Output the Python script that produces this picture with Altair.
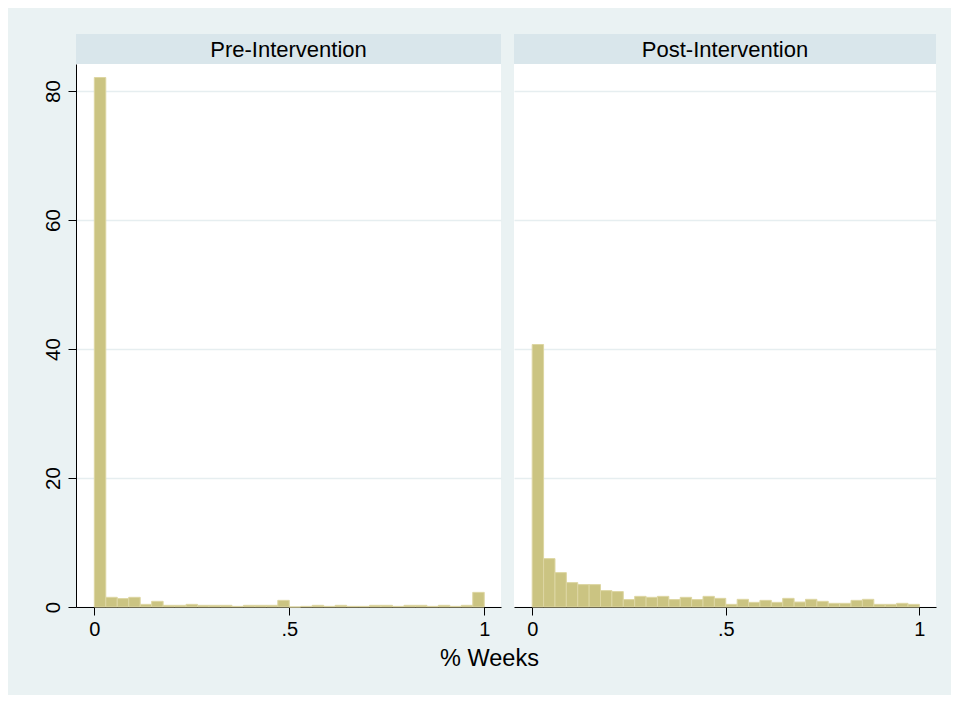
import altair as alt
import pandas as pd

# ---------------- data ----------------
bin_count = 34
panel_names = ["Pre-Intervention", "Post-Intervention"]
pre_pct = [82.1, 1.5, 1.3, 1.5, 0.41, 0.88, 0.26, 0.26, 0.41, 0.26, 0.26, 0.26,
           0.1, 0.26, 0.26, 0.26, 1.03, 0.0, 0.1, 0.26, 0.1, 0.26, 0.1, 0.1,
           0.26, 0.26, 0.1, 0.26, 0.26, 0.1, 0.26, 0.1, 0.26, 2.27]
post_pct = [40.7, 7.5, 5.33, 3.78, 3.47, 3.47, 2.54, 2.39, 1.15, 1.65, 1.5, 1.65,
            1.15, 1.5, 1.15, 1.65, 1.34, 0.41, 1.19, 0.72, 1.03, 0.72, 1.34, 0.77,
            1.19, 0.88, 0.57, 0.57, 1.03, 1.19, 0.41, 0.41, 0.57, 0.41]
x_tick_values = [0, 0.5, 1]
x_tick_labels = ["0", ".5", "1"]
y_tick_values = [0, 20, 40, 60, 80]
x_title = "% Weeks"

# ---------------- style ----------------
FONT = "Liberation Sans"
BG = "#EAF2F3"
STRIP = "#D9E6EB"
BAR_FILL = "#CBC482"
BAR_EDGE = "#DDD6A2"
GRID = "#E6EEF0"
INK = "#000000"

XDOM = [-0.047, 1.043]
YDOM = [0, 84.2]
PLOT_H = 543
STRIP_H = 30


def make_df(vals):
    return pd.DataFrame({
        "start": [i / bin_count for i in range(bin_count)],
        "end": [(i + 1) / bin_count for i in range(bin_count)],
        "pct": vals,
    })


label_expr = ""
for v, lab in zip(x_tick_values, x_tick_labels):
    label_expr += f"datum.value == {v} ? '{lab}' : "
label_expr += "''"


def panel(name, vals, width, show_y):
    df = make_df(vals)
    xscale = alt.Scale(domain=XDOM, nice=False, zero=False)
    yscale = alt.Scale(domain=YDOM, nice=False, zero=True)
    xaxis = alt.Axis(values=x_tick_values, labelExpr=label_expr, grid=False,
                     tickSize=8, tickColor=INK, domainColor=INK, domainWidth=1,
                     labelFont=FONT, labelFontSize=20, labelColor=INK,
                     labelPadding=4, title=None)
    if show_y:
        yaxis = alt.Axis(values=y_tick_values, labelAngle=270, labelAlign="center",
                         labelBaseline="alphabetic", labelFont=FONT, labelFontSize=20.5,
                         labelColor=INK, tickSize=8, tickColor=INK, domainColor=INK,
                         labelPadding=9, grid=True, gridColor=GRID, gridWidth=1.3,
                         title=None)
    else:
        yaxis = alt.Axis(values=y_tick_values, labels=False, ticks=False, domain=False,
                         grid=True, gridColor=GRID, gridWidth=1.3, title=None)

    bars = alt.Chart(df).mark_rect(fill=BAR_FILL, stroke=BAR_EDGE, strokeWidth=1).encode(
        x=alt.X("start:Q", scale=xscale, axis=xaxis),
        x2="end:Q",
        y=alt.Y("pct:Q", scale=yscale, axis=yaxis),
        y2=alt.datum(0),
    )
    sdf = pd.DataFrame({"label": [name]})
    strip = alt.Chart(sdf).mark_rect(fill=STRIP).encode(
        x=alt.value(0), x2=alt.value(width),
        y=alt.value(-STRIP_H), y2=alt.value(0),
    )
    text = alt.Chart(sdf).mark_text(font=FONT, fontSize=22, color=INK,
                                    baseline="middle", align="center").encode(
        x=alt.value(width / 2), y=alt.value(-STRIP_H / 2 + 1), text="label:N"
    )
    return alt.layer(bars, strip, text).properties(width=width, height=PLOT_H)


left = panel(panel_names[0], pre_pct, 425, True)
right = panel(panel_names[1], post_pct, 422, False)

chart = alt.hconcat(left, right, spacing=13).properties(
    title=alt.TitleParams(text=x_title, orient="bottom", anchor="middle",
                          font=FONT, fontSize=23.5, fontWeight="normal",
                          color=INK, offset=8),
    background=BG,
    padding={"left": 35, "top": 26, "right": 15, "bottom": 24},
).configure_view(fill="white", strokeWidth=0)

chart.save("out.html", embed_options={"renderer": "svg", "actions": False})
